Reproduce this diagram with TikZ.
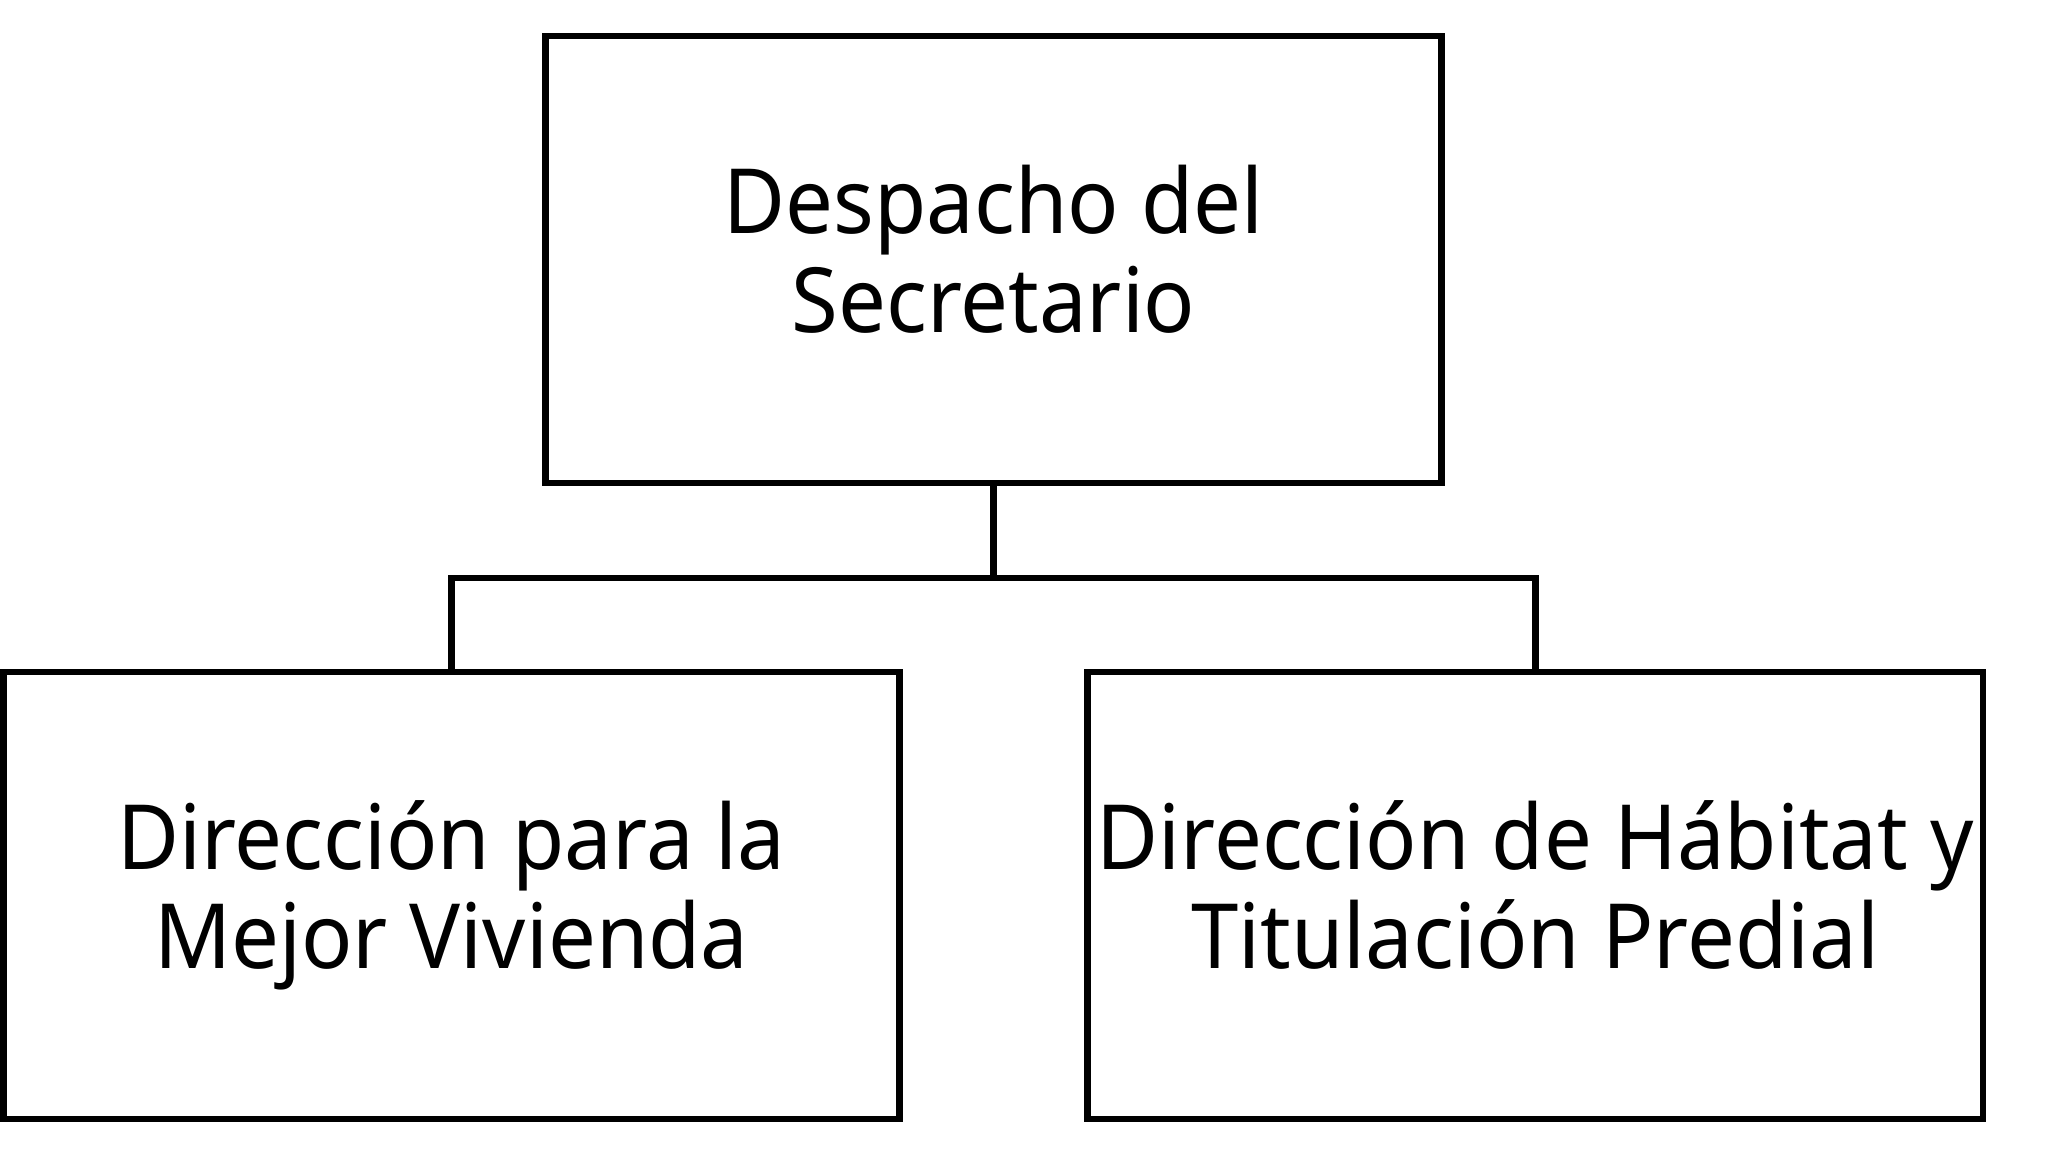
\documentclass[tikz,border=0pt]{standalone}
\usepackage{fontspec}
\setmainfont[FakeStretch=0.945]{Noto Sans}
\newcommand{\lastdepth}{\vphantom{j}}
\begin{document}
\begin{tikzpicture}[x=1pt,y=-1pt,
  box/.style={draw, line width=6.7pt, inner sep=0pt, outer sep=0pt,
    minimum width=896pt, minimum height=447pt, align=center,
    font=\fontsize{90}{99}\selectfont},
  link/.style={line width=6.7pt}]
\useasboundingbox[fill=white] (0,0) rectangle (2045,1155);
\node[box] (top) at (993.5,259.5) {Despacho del\\Secretario\lastdepth};
\node[box] (left) at (451.5,895.5) {Dirección para la\\Mejor Vivienda\lastdepth};
\node[box, minimum width=895.5pt] (right) at (1535.25,895.5) {Dirección de Hábitat y\\Titulación Predial\lastdepth};
\coordinate (bus) at (993.5,578);
\draw[link] (top.south) -- (bus);
\draw[link] (left.north) |- (bus) -| (right.north);
\end{tikzpicture}
\end{document}
